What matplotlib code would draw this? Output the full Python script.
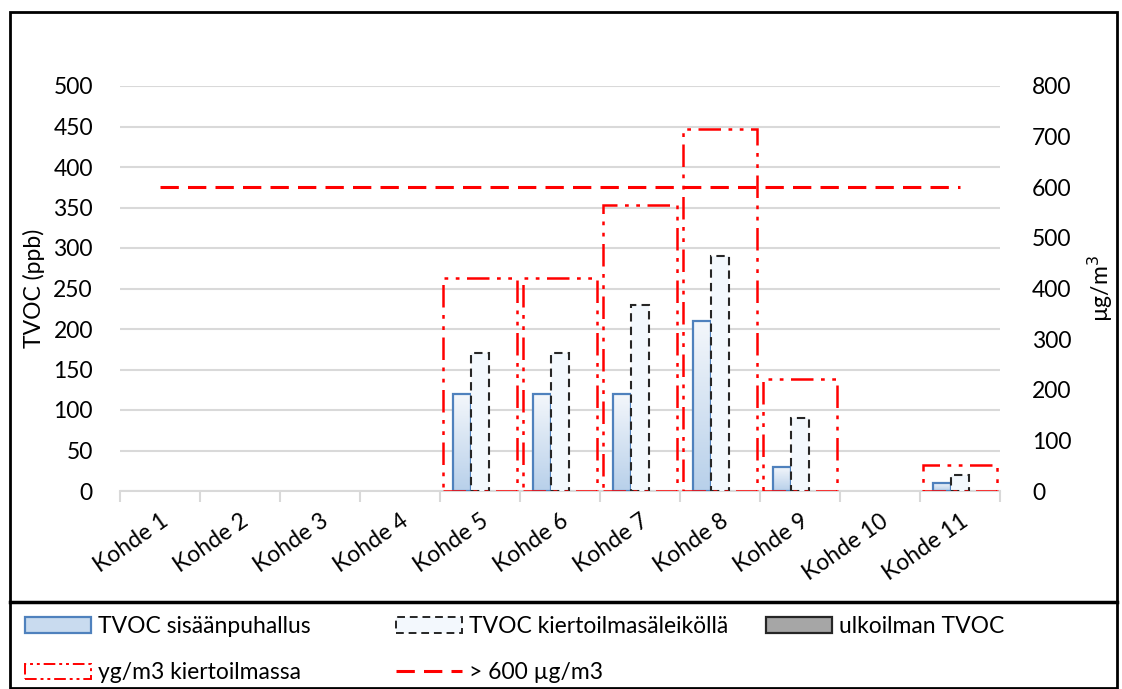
import numpy as np
import matplotlib.pyplot as plt
from matplotlib.patches import Patch, Rectangle
from matplotlib.lines import Line2D
from matplotlib.colors import LinearSegmentedColormap

plt.rcParams['font.family'] = ['Lato', 'DejaVu Sans']

kohteet = ['Kohde 1', 'Kohde 2', 'Kohde 3', 'Kohde 4', 'Kohde 5', 'Kohde 6',
           'Kohde 7', 'Kohde 8', 'Kohde 9', 'Kohde 10', 'Kohde 11']
tvoc_sisaan = [0, 0, 0, 0, 120, 120, 120, 210, 30, 0, 10]
tvoc_kierto = [0, 0, 0, 0, 170, 170, 230, 290, 90, 0, 20]
tvoc_ulko = [0, 0, 0, 0, 0, 0, 0, 0, 0, 0, 0]
ug_kierto = [0, 0, 0, 0, 420, 420, 565, 715, 222, 0, 52]
raja = 600

left_ticks = np.arange(0, 501, 50)
right_ticks = np.arange(0, 801, 100)

fs = 16.5
grid_c = '#d9d9d9'

fig = plt.figure(figsize=(11.22, 6.89), dpi=100)
ax = fig.add_axes([120 / 1122, 1 - 491 / 689, 880 / 1122, 405 / 689])
ax2 = ax.twinx()

x = np.arange(len(kohteet))
w = 0.225


def nonzero(vals):
    # empty categories are left out so no flat outline is drawn on the axis
    v = np.array(vals, dtype=float)
    m = v > 0
    return x[m], v[m]


# gradient fill for the supply-air bars
grad = LinearSegmentedColormap.from_list('g', ['#b8d0ea', '#f4f7fb'])
xs, vs = nonzero(tvoc_sisaan)
bars1 = ax.bar(xs - w, vs, w, facecolor='none', edgecolor='#4f81bd',
               linewidth=1.6, zorder=3)
for b in bars1:
    im = ax.imshow(np.linspace(0, 1, 100).reshape(-1, 1), cmap=grad, origin='lower',
                   aspect='auto', zorder=2,
                   extent=[b.get_x(), b.get_x() + b.get_width(), 0, b.get_height()])
    im.set_clip_path(b)

xs, vs = nonzero(tvoc_kierto)
ax.bar(xs, vs, w, facecolor='#f3f8fd', edgecolor='#262626',
       linewidth=1.5, linestyle=(0, (4, 2.5)), zorder=3)
xs, vs = nonzero(tvoc_ulko)
ax.bar(xs + w, vs, w, facecolor='#a6a6a6', edgecolor='#262626',
       linewidth=1.0, zorder=3)

ax.set_xlim(-0.5, len(kohteet) - 0.5)
ax.set_ylim(0, 500)
ax.set_yticks(left_ticks)
ax.yaxis.grid(True, color=grid_c, linewidth=1.5)
ax.set_axisbelow(True)
ax.tick_params(axis='y', length=0, labelsize=fs, pad=19.5)

# category boundaries as ticks, labels at the centres
ax.set_xticks(np.arange(-0.5, len(kohteet)))
ax.set_xticklabels([])
ax.tick_params(axis='x', which='major', length=8, color=grid_c, width=1.5)
ax.set_xticks(x, minor=True)
ax.set_xticklabels(kohteet, minor=True, rotation=35, ha='right', rotation_mode='anchor',
                   fontsize=fs)
ax.tick_params(axis='x', which='minor', length=0, pad=14)
for s in ['left', 'right', 'top']:
    ax.spines[s].set_visible(False)
ax.spines['bottom'].set_color(grid_c)
ax.spines['bottom'].set_linewidth(1.5)
ax.set_ylabel('TVOC (ppb)', fontsize=fs, labelpad=6)

xs, vs = nonzero(ug_kierto)
ax2.bar(xs, vs, 0.92, facecolor='none', edgecolor='#ff0000', linewidth=1.8,
        linestyle=(0, (9, 3, 1.5, 3, 1.5, 3)), zorder=4)
ax2.plot(x, [raja] * len(x), color='#ff0000', linewidth=2.2, linestyle=(0, (6, 3)))
ax2.set_ylim(0, 800)
ax2.set_yticks(right_ticks)
ax2.tick_params(axis='y', length=0, labelsize=fs, pad=23)
for s in ax2.spines.values():
    s.set_visible(False)
ax2.set_ylabel('µg/m$^3$', fontsize=fs, labelpad=10)

# outer frame and legend separator
fig.patches.append(Rectangle((10 / 1122, 1 / 689), 1107 / 1122, 676 / 689, transform=fig.transFigure,
                             fill=False, edgecolor='black', linewidth=2))
fig.add_artist(Line2D([10 / 1122, 1117 / 1122], [1 - 602 / 689] * 2, transform=fig.transFigure,
                      color='black', linewidth=2.5))

h_sisaan = Patch(facecolor='#c9dbef', edgecolor='#4f81bd', linewidth=1.6)
h_ug = Patch(facecolor='none', edgecolor='#ff0000', linewidth=1.4, linestyle=(0, (6, 2, 1.5, 2, 1.5, 2)))
h_kierto = Patch(facecolor='#f3f8fd', edgecolor='#262626', linewidth=1.4, linestyle=(0, (4, 2.5)))
h_raja = Line2D([], [], color='#ff0000', linewidth=2.2, linestyle=(0, (6, 3)))
h_ulko = Patch(facecolor='#a6a6a6', edgecolor='#262626', linewidth=1.6)

# one legend per column, Excel spaces the columns evenly
columns = [
    (25, [h_sisaan, h_ug], ['TVOC sisäänpuhallus', 'yg/m3 kiertoilmassa']),
    (396, [h_kierto, h_raja], ['TVOC kiertoilmasäleiköllä', '> 600 µg/m3']),
    (766, [h_ulko], ['ulkoilman TVOC']),
]
for xpos, hs, ls in columns:
    leg = fig.legend(hs, ls, loc='upper left', bbox_to_anchor=(xpos / 1122, 1 - 616 / 689),
                     frameon=False, fontsize=fs, handlelength=2.9, handleheight=0.65,
                     handletextpad=0.3, labelspacing=1.1, borderaxespad=0, borderpad=0)

fig.savefig('out.png', dpi=100)
